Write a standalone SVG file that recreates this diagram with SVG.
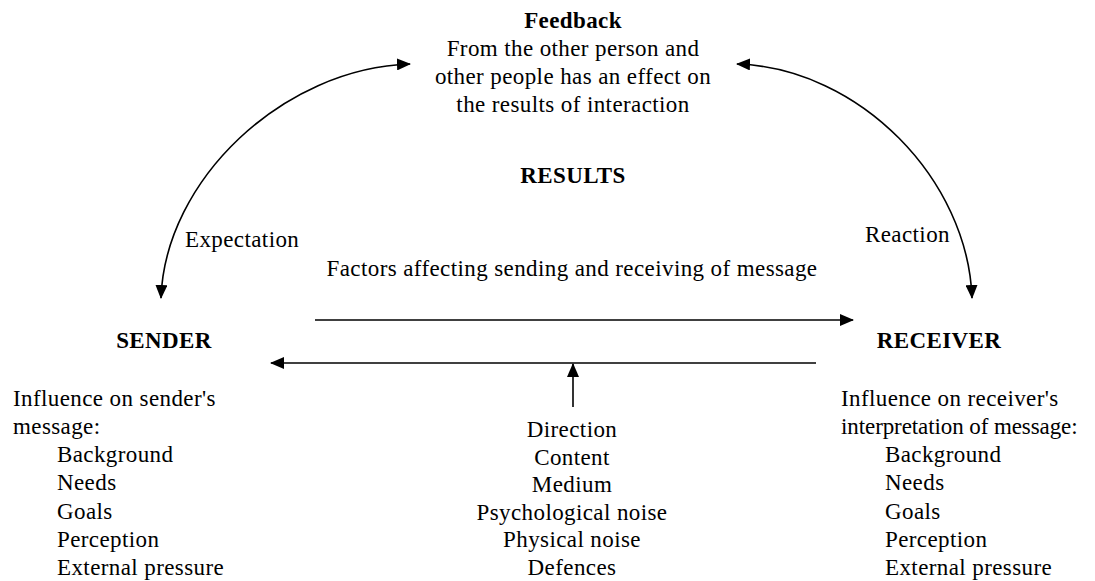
<svg xmlns="http://www.w3.org/2000/svg" width="1095" height="581" viewBox="0 0 1095 581">
  <style>
    text { font-size: 23px; fill: #000; letter-spacing: 0.4px; }
    .b { font-weight: bold; }
    .c { text-anchor: middle; }
    .wire { fill: none; stroke: #000; stroke-width: 1.6; }
  </style>
  <defs>
    <marker id="head" viewBox="0 0 14 12" refX="13" refY="6" markerWidth="14" markerHeight="12" markerUnits="userSpaceOnUse" orient="auto-start-reverse">
      <path d="M0,0 L14,6 L0,12 Z" fill="#000"/>
    </marker>
  </defs>

  <rect width="1095" height="581" fill="#fff"/>

  <!-- connectors -->
  <g id="connectors">
    <path class="wire" d="M410,64 C283,68 165,180 161,298" marker-start="url(#head)" marker-end="url(#head)"/>
    <path class="wire" d="M737,64 C860,68 968,180 972,298" marker-start="url(#head)" marker-end="url(#head)"/>
    <path class="wire" d="M315,320 L853,320" marker-end="url(#head)"/>
    <path class="wire" d="M816,363 L271,363" marker-end="url(#head)"/>
    <path class="wire" d="M573,407 L573,364" marker-end="url(#head)"/>
  </g>

  <g font-family="'Liberation Serif', 'DejaVu Serif', serif">
  <g id="feedback">
    <text class="b c" x="573" y="28">Feedback</text>
    <text class="c" x="573" y="56">From the other person and</text>
    <text class="c" x="573" y="84">other people has an effect on</text>
    <text class="c" x="573" y="112">the results of interaction</text>
  </g>

  <g id="results">
    <text class="b c" x="573" y="183">RESULTS</text>
  </g>

  <g id="labels">
    <text x="185" y="247">Expectation</text>
    <text x="865" y="242">Reaction</text>
    <text class="c" x="572" y="276">Factors affecting sending and receiving of message</text>
  </g>

  <g id="sender">
    <text class="b c" x="164" y="348">SENDER</text>
    <text x="13" y="406">Influence on sender's</text>
    <text x="13" y="434">message:</text>
    <text x="57" y="462">Background</text>
    <text x="57" y="490">Needs</text>
    <text x="57" y="519">Goals</text>
    <text x="57" y="547">Perception</text>
    <text x="57" y="575">External pressure</text>
  </g>

  <g id="receiver">
    <text class="b c" x="939" y="348">RECEIVER</text>
    <text x="841" y="406">Influence on receiver's</text>
    <text x="841" y="434" textLength="237">interpretation of message:</text>
    <text x="885" y="462">Background</text>
    <text x="885" y="490">Needs</text>
    <text x="885" y="519">Goals</text>
    <text x="885" y="547">Perception</text>
    <text x="885" y="575">External pressure</text>
  </g>

  <g id="message-factors">
    <text class="c" x="572" y="437">Direction</text>
    <text class="c" x="572" y="465">Content</text>
    <text class="c" x="572" y="492">Medium</text>
    <text class="c" x="572" y="520">Psychological noise</text>
    <text class="c" x="572" y="547">Physical noise</text>
    <text class="c" x="572" y="575">Defences</text>
  </g>
  </g>
</svg>
